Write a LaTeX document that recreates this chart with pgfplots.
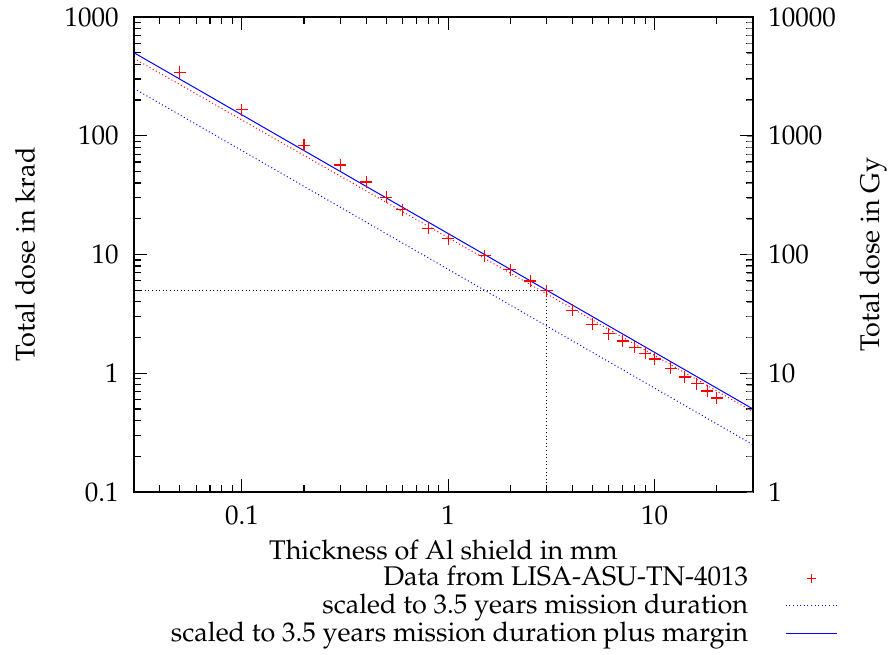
\documentclass[border=0pt]{standalone}
\usepackage[T1]{fontenc}
\usepackage{mathpazo}
\usepackage{pgfplots}
\pgfplotsset{compat=1.18}
\pgfplotsset{
  markleg/.style={legend image code/.code={\draw[red, line width=0.6pt] (0.45cm,-2.2pt) -- (0.45cm,2.2pt) (0.45cm,0cm) ++(-2.2pt,0pt) -- ++(4.4pt,0pt);}},
  dotleg/.style={legend image code/.code={\draw[blue, line width=0.55pt, dash pattern=on 0.5pt off 1.3pt] (0cm,0cm) -- (0.9cm,0cm);}},
  solidleg/.style={legend image code/.code={\draw[blue, line width=0.6pt] (0cm,0cm) -- (0.9cm,0cm);}},
}
\pgfplotstableread{
x y
0.05 342
0.1 166
0.2 83
0.3 56.6
0.4 40.8
0.5 30.3
0.6 23.8
0.8 16.6
1 13.6
1.5 9.75
2 7.45
2.5 5.98
3 4.94
4 3.4
5 2.59
6 2.15
7 1.87
8 1.65
9 1.47
10 1.32
12 1.10
14 0.93
16 0.815
18 0.71
20 0.62
}\datatable
\begin{document}
\fontsize{13.5pt}{16pt}\selectfont
\begin{tikzpicture}
\begin{axis}[
  scale only axis, width=309.5pt, height=237.5pt,
  xmode=log, ymode=log,
  xmin=0.03, xmax=30, ymin=0.1, ymax=1000,
  xtick={0.1,1,10}, xticklabels={0.1,1,10},
  ytick={0.1,1,10,100,1000}, yticklabels={0.1,1,10,100,1000},
  minor xtick={0.03,0.04,0.05,0.06,0.07,0.08,0.09,0.2,0.3,0.4,0.5,0.6,0.7,0.8,0.9,2,3,4,5,6,7,8,9,20,30},
  minor ytick={0.2,0.3,0.4,0.5,0.6,0.7,0.8,0.9,2,3,4,5,6,7,8,9,20,30,40,50,60,70,80,90,200,300,400,500,600,700,800,900},
  xtick pos=both, ytick pos=both,
  tick align=inside,
  major tick length=6.5pt, minor tick length=3.3pt,
  every tick/.style={black, line width=0.6pt},
  axis line style={line width=0.7pt},
  xticklabel style={yshift=-2pt},
  yticklabel style={xshift=-3pt},
  xlabel={Thickness of Al shield in mm},
  ylabel={Total dose in krad},
  xlabel style={at={(axis description cs:0.5,-0.122)}, anchor=center, inner sep=0pt},
  ylabel style={at={(axis description cs:-0.176,0.5)}, anchor=center, inner sep=0pt},
  legend cell align=right,
  legend plot pos=right,
  legend style={draw=none, fill=none, at={(1,0)}, anchor=north east, xshift=45.5pt, yshift=-34pt,
    row sep=0pt, column sep=17.5pt, nodes={inner sep=1pt}},
]
\addplot[only marks, red, mark=+, mark size=3pt, line width=0.6pt, mark options={red}, markleg] table[x=x,y=y] {\datatable};
\addlegendentry{Data from LISA-ASU-TN-4013}
\addplot[blue, line width=0.5pt, dash pattern=on 0.5pt off 1.3pt, dotleg] coordinates {(0.03,250) (30,0.25)};
\addlegendentry{scaled to 3.5 years mission duration}
\addplot[blue, line width=0.5pt, solidleg] coordinates {(0.03,500) (30,0.5)};
\addlegendentry{scaled to 3.5 years mission duration plus margin}
\addplot[red, line width=0.5pt, dash pattern=on 0.5pt off 1.3pt, forget plot] coordinates {(0.03,448) (30,0.475)};
\addplot[black, line width=0.5pt, dash pattern=on 0.5pt off 1.3pt, forget plot] coordinates {(0.03,5) (3,5) (3,0.1)};
\coordinate (bl) at (rel axis cs:0,0);
\coordinate (tr) at (rel axis cs:1,1);
\end{axis}
\begin{axis}[
  scale only axis, width=309.5pt, height=237.5pt,
  xmode=log, ymode=log,
  xmin=0.03, xmax=30, ymin=1, ymax=10000,
  axis x line=none, axis y line*=right,
  axis line style={line width=0.7pt, -},
  ytick={1,10,100,1000,10000}, yticklabels={1,10,100,1000,10000},
  minor ytick={},
  major tick length=0pt,
  yticklabel style={xshift=3pt},
  ylabel={Total dose in Gy},
  ylabel style={at={(axis description cs:1.194,0.5)}, anchor=center, inner sep=0pt},
]
\addplot[draw=none] coordinates {(1,1)};
\end{axis}
\pgfresetboundingbox
\path[use as bounding box] ([xshift=-67pt,yshift=-81.5pt]bl) rectangle ([xshift=68.5pt,yshift=8.5pt]tr);
\end{tikzpicture}
\end{document}
